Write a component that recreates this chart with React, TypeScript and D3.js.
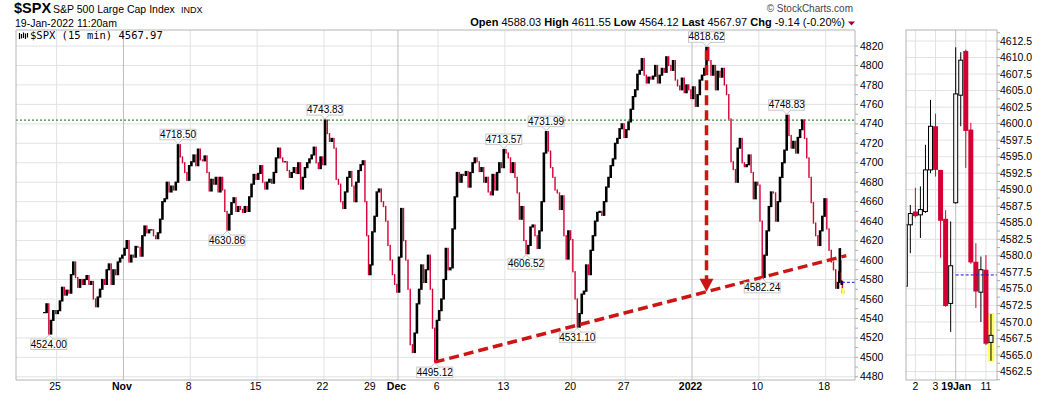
import * as d3 from 'd3';

// trading sessions shown on the 15 min chart
const sessionDates = [
  '2021-10-22', '2021-10-25', '2021-10-26', '2021-10-27', '2021-10-28', '2021-10-29',
  '2021-11-01', '2021-11-02', '2021-11-03', '2021-11-04', '2021-11-05',
  '2021-11-08', '2021-11-09', '2021-11-10', '2021-11-11', '2021-11-12',
  '2021-11-15', '2021-11-16', '2021-11-17', '2021-11-18', '2021-11-19',
  '2021-11-22', '2021-11-23', '2021-11-24', '2021-11-26',
  '2021-11-29', '2021-11-30', '2021-12-01', '2021-12-02', '2021-12-03',
  '2021-12-06', '2021-12-07', '2021-12-08', '2021-12-09', '2021-12-10',
  '2021-12-13', '2021-12-14', '2021-12-15', '2021-12-16', '2021-12-17',
  '2021-12-20', '2021-12-21', '2021-12-22', '2021-12-23',
  '2021-12-27', '2021-12-28', '2021-12-29', '2021-12-30', '2021-12-31',
  '2022-01-03', '2022-01-04', '2022-01-05', '2022-01-06', '2022-01-07',
  '2022-01-10', '2022-01-11', '2022-01-12', '2022-01-13', '2022-01-14',
  '2022-01-18', '2022-01-19',
];

// sessions with fewer than 26 fifteen-minute bars
const shortSessions: Record<string, number> = { '2021-11-26': 14, '2022-01-19': 8 };

// price path within each session
const sessionPrices: number[][] = [
  [4546, 4555, 4524.0, 4538, 4548, 4545],
  [4548, 4558, 4572, 4564, 4569, 4566],
  [4585, 4598, 4582, 4572, 4580, 4575],
  [4580, 4584, 4575, 4578, 4560, 4552],
  [4562, 4570, 4580, 4575, 4590, 4596],
  [4575, 4590, 4585, 4598, 4602, 4605],
  [4612, 4620, 4598, 4605, 4603, 4614],
  [4613, 4604, 4625, 4635, 4628, 4631],
  [4631, 4625, 4622, 4628, 4642, 4660],
  [4663, 4680, 4670, 4676, 4672, 4680],
  [4718.5, 4706, 4700, 4690, 4682, 4697],
  [4701, 4708, 4697, 4714, 4703, 4702],
  [4707, 4690, 4671, 4683, 4678, 4685],
  [4670, 4685, 4672, 4650, 4630.86, 4647],
  [4659, 4664, 4650, 4655, 4652, 4649],
  [4655, 4650, 4665, 4678, 4688, 4683],
  [4689, 4697, 4680, 4673, 4680, 4683],
  [4679, 4690, 4705, 4715, 4705, 4701],
  [4701, 4692, 4685, 4690, 4695, 4689],
  [4700, 4673, 4685, 4695, 4700, 4704],
  [4708, 4716, 4700, 4694, 4706, 4698],
  [4743.83, 4730, 4722, 4725, 4715, 4683],
  [4678, 4660, 4653, 4670, 4685, 4691],
  [4676, 4660, 4680, 4692, 4698, 4702],
  [4660, 4625, 4585, 4595],
  [4629, 4645, 4670, 4673, 4660, 4655],
  [4640, 4615, 4600, 4585, 4575, 4567],
  [4603, 4653, 4620, 4600, 4570, 4513],
  [4505, 4525, 4555, 4570, 4595, 4577],
  [4590, 4605, 4570, 4530, 4495.12, 4538],
  [4548, 4560, 4580, 4612, 4590, 4592],
  [4632, 4665, 4690, 4680, 4688, 4687],
  [4691, 4675, 4690, 4700, 4705, 4701],
  [4691, 4695, 4680, 4685, 4670, 4667],
  [4688, 4672, 4690, 4700, 4695, 4713.57],
  [4710, 4705, 4690, 4700, 4685, 4669],
  [4642, 4655, 4620, 4606.52, 4615, 4634],
  [4636, 4625, 4612, 4630, 4660, 4710],
  [4731.99, 4712, 4695, 4685, 4672, 4669],
  [4652, 4666, 4625, 4601, 4630, 4621],
  [4588, 4560, 4531.1, 4545, 4565, 4568],
  [4595, 4585, 4610, 4625, 4640, 4649],
  [4650, 4646, 4660, 4675, 4685, 4697],
  [4704, 4720, 4725, 4735, 4740, 4726],
  [4734, 4742, 4755, 4768, 4775, 4791],
  [4795, 4807, 4790, 4782, 4788, 4786],
  [4789, 4800, 4782, 4790, 4797, 4793],
  [4808.9, 4800, 4795, 4805, 4785, 4779],
  [4775, 4787, 4772, 4780, 4775, 4766],
  [4778, 4758, 4770, 4785, 4790, 4797],
  [4818.62, 4805, 4790, 4800, 4775, 4794],
  [4788, 4797, 4780, 4770, 4745, 4701],
  [4693, 4680, 4715, 4725, 4700, 4696],
  [4698, 4708, 4690, 4663, 4680, 4677],
  [4640, 4582.24, 4605, 4630, 4655, 4670],
  [4669, 4640, 4660, 4685, 4700, 4713],
  [4748.83, 4728, 4715, 4722, 4710, 4726],
  [4734, 4744, 4725, 4705, 4685, 4659],
  [4638, 4625, 4615, 4630, 4645, 4663],
  [4632, 4610, 4598, 4590, 4571, 4577],
  [4588, 4611.55, 4599, 4579, 4575, 4578, 4566.7, 4567.97],
];

// x axis ticks (main chart)
const xTickDates = [
  '2021-10-25', '2021-11-01', '2021-11-08', '2021-11-15', '2021-11-22', '2021-11-29',
  '2021-12-01', '2021-12-06', '2021-12-13', '2021-12-20', '2021-12-27', '2022-01-03',
  '2022-01-10', '2022-01-18',
];
const xTickLabels = ['25', 'Nov', '8', '15', '22', '29', 'Dec', '6', '13', '20', '27', '2022', '10', '18'];
const xTickMonth = [false, true, false, false, false, false, true, false, false, false, false, true, false, false];

const yTicks = d3.range(4480, 4821, 20);

// annotated highs and lows
const peakDates = [
  '2021-10-22', '2021-11-05', '2021-11-10', '2021-11-22', '2021-12-03', '2021-12-10',
  '2021-12-14', '2021-12-16', '2021-12-20', '2022-01-04', '2022-01-10', '2022-01-12',
];
const peakPrices = [4524.0, 4718.5, 4630.86, 4743.83, 4495.12, 4713.57, 4606.52, 4731.99, 4531.1, 4818.62, 4582.24, 4748.83];
const peakSides = ['below', 'above', 'below', 'above', 'below', 'above', 'below', 'above', 'below', 'above', 'below', 'above'];

const resistance = 4743.83;
const prevClose = 4577.11;
const trendFrom = { date: '2021-12-03', price: 4495.12 };
const trendTo = { date: '2022-01-10', price: 4582.24 };
const arrowFrom = { date: '2022-01-04', price: 4818.62 };

// right panel: 15 min candles, 18 Jan afternoon + 19 Jan morning
const candleTimes = ['13:30', '13:45', '14:00', '14:15', '14:30', '14:45', '15:00', '15:15', '15:30', '15:45',
  '09:30', '09:45', '10:00', '10:15', '10:30', '10:45', '11:00', '11:15'];
const candleOpen = [4575.4, 4584.7, 4586.7, 4586.2, 4586.7, 4593.0, 4599.6, 4593.0, 4585.6, 4572.8,
  4588.03, 4604.3, 4611.0, 4599.1, 4579.1, 4574.5, 4577.9, 4566.9];
const candleHigh = [4585.5, 4587.7, 4590.3, 4590.5, 4596.8, 4603.6, 4601.5, 4593.0, 4586.9, 4585.2,
  4611.55, 4610.8, 4611.2, 4600.1, 4581.9, 4579.9, 4580.1, 4571.2];
const candleLow = [4575.4, 4580.4, 4585.8, 4582.7, 4586.5, 4592.5, 4592.0, 4579.7, 4572.3, 4568.5,
  4587.9, 4599.6, 4593.3, 4578.8, 4572.1, 4570.0, 4566.5, 4564.12];
const candleClose = [4584.7, 4586.4, 4586.0, 4587.0, 4593.0, 4599.6, 4593.0, 4585.3, 4572.4, 4578.5,
  4604.5, 4609.6, 4598.9, 4579.0, 4574.6, 4577.9, 4566.7, 4567.97];
const sideGridTimes = ['14:00', '15:00', '09:30', '10:00', '11:00'];
const sideGridLabels = ['2', '3', '19Jan', '', '11'];
const sideYTicks = d3.range(4562.5, 4612.6, 2.5);

const RED = '#d40034';
const TREND = '#cc1515';
const GRID = '#e2e2e2';
const FONT = '"Liberation Sans", Arial, sans-serif';

export default function App() {
  const main = { left: 16, right: 855, top: 30, bottom: 380 };
  const side = { left: 906, right: 997, top: 30, bottom: 380 };

  const barsPer = sessionDates.map((d) => shortSessions[d] ?? 26);
  const starts: number[] = [];
  let acc = 0;
  barsPer.forEach((b) => {
    starts.push(acc);
    acc += b;
  });

  const x = d3.scaleLinear().domain([-53, 1579]).range([main.left, main.right]);
  const y = d3.scaleLinear().domain([4480, 4820]).range([376.8, 46]);

  type Pt = { bar: number; v: number; prev: number; s: number };
  const pts: Pt[] = [];
  let last = sessionPrices[0][0];
  sessionPrices.forEach((vals, s) => {
    const n = vals.length;
    const nb = barsPer[s];
    vals.forEach((v, k) => {
      pts.push({ bar: starts[s] + ((k + 0.5) * nb) / n, v, prev: last, s });
      last = v;
    });
  });
  const pointOf = (date: string, price: number) => {
    const s = sessionDates.indexOf(date);
    return pts.find((p) => p.s === s && p.v === price)!;
  };

  // each step drawn as a vertical bar, black when rising, red when falling
  const segs = pts.map((p) => {
    const y0 = y(Math.max(p.v, p.prev));
    const y1 = y(Math.min(p.v, p.prev));
    return { x: x(p.bar), y: y0 - 0.6, h: Math.max(1.2, y1 - y0 + 1.2), up: p.v >= p.prev };
  });

  // trend line
  const tA = pointOf(trendFrom.date, trendFrom.price);
  const tB = pointOf(trendTo.date, trendTo.price);
  const trendAt = (bar: number) => tA.v + ((tB.v - tA.v) * (bar - tA.bar)) / (tB.bar - tA.bar);
  const trendEnd = acc + 6;

  const aP = pointOf(arrowFrom.date, arrowFrom.price);
  const ax = x(aP.bar);
  const aTip = y(trendAt(aP.bar));
  const aTop = y(aP.v) + 3;

  const lastPt = pts[pts.length - 1];

  // right panel scales
  const sx = d3.scaleLinear().domain([0, 10]).range([905.3, 955.7]);
  const sy = d3.scaleLinear().domain([4562.5, 4612.5]).range([371.5, 41]);
  const ci = (t: string) => candleTimes.indexOf(t);
  const lastC = candleTimes.length - 1;

  return (
    <svg
      width={1050}
      height={396}
      style={{ position: 'absolute', left: 0, top: 0, background: '#fff' }}
      fontFamily={FONT}
    >
      <defs>
        <clipPath id="mainClip">
          <rect x={main.left} y={main.top} width={main.right - main.left} height={main.bottom - main.top} />
        </clipPath>
        <clipPath id="sideClip">
          <rect x={side.left} y={side.top} width={side.right - side.left} height={side.bottom - side.top} />
        </clipPath>
      </defs>

      {/* header */}
      <text x={14} y={13} fontSize={14.5} fontWeight="bold">$SPX</text>
      <text x={53} y={13} fontSize={10.5}>S&amp;P 500 Large Cap Index</text>
      <text x={181} y={13} fontSize={9}>INDX</text>
      <text x={15} y={27} fontSize={10.5}>19-Jan-2022 11:20am</text>
      <text x={853} y={12} fontSize={10} textAnchor="end" fill="#444">© StockCharts.com</text>
      <text x={845} y={26} fontSize={11} textAnchor="end">
        <tspan fontWeight="bold">Open</tspan> 4588.03{'  '}
        <tspan fontWeight="bold">High</tspan> 4611.55{'  '}
        <tspan fontWeight="bold">Low</tspan> 4564.12{'  '}
        <tspan fontWeight="bold">Last</tspan> 4567.97{'  '}
        <tspan fontWeight="bold">Chg</tspan> -9.14 (-0.20%)
      </text>
      <path d="M848,21.5 L855,21.5 L851.5,25.5 Z" fill="#a3002c" />

      {/* main panel grid */}
      {yTicks.map((v) => (
        <line key={'h' + v} x1={main.left} x2={main.right} y1={y(v)} y2={y(v)} stroke={GRID} />
      ))}
      {xTickDates.map((d, i) => {
        const gx = x(starts[sessionDates.indexOf(d)]);
        return (
          <g key={'v' + d}>
            <line x1={gx} x2={gx} y1={main.top} y2={main.bottom} stroke={xTickMonth[i] ? '#bdbdbd' : GRID} />
            <text
              x={gx - 1.5}
              y={390}
              fontSize={10.5}
              textAnchor="middle"
              fontWeight={xTickMonth[i] ? 'bold' : 'normal'}
            >
              {xTickLabels[i]}
            </text>
          </g>
        );
      })}
      {d3.range(4480, 4821, 10).map((v) => (
        <line key={'t' + v} x1={main.right} x2={main.right + 3} y1={y(v)} y2={y(v)} stroke="#aaa" />
      ))}
      {yTicks.map((v) => (
        <text key={'yl' + v} x={860} y={y(v) + 3.6} fontSize={10.5}>
          {v}
        </text>
      ))}

      {/* legend */}
      <path
        d="M19.5,33 V39 M21.5,34 V38.5 M23.5,32.5 V38 M25.5,33.5 V39 M27.5,33 V37.5"
        stroke="#000"
        strokeWidth={1.2}
      />
      <text x={30} y={38.5} fontSize={10.5} fontFamily='"DejaVu Sans Mono", monospace'>
        $SPX (15 min) 4567.97
      </text>

      <g clipPath="url(#mainClip)">
        <line
          x1={main.left}
          x2={main.right}
          y1={y(resistance)}
          y2={y(resistance)}
          stroke="#0a6e0a"
          strokeDasharray="2,2"
        />

        {segs.filter((s) => !s.up).map((s, i) => (
          <rect key={'r' + i} x={s.x - 0.7} y={s.y} width={1.4} height={s.h} fill={RED} />
        ))}
        {segs.filter((s) => s.up).map((s, i) => (
          <rect key={'b' + i} x={s.x - 1.3} y={s.y} width={2.6} height={s.h} fill="#000" />
        ))}

        <rect x={x(lastPt.bar) - 1.5} y={y(lastPt.v) - 3} width={3} height={6} fill="#ffff55" />

        <line
          x1={x(tA.bar)}
          y1={y(tA.v)}
          x2={x(trendEnd)}
          y2={y(trendAt(trendEnd))}
          stroke={TREND}
          strokeWidth={3.5}
          strokeDasharray="10,5"
        />
        <line x1={ax} x2={ax} y1={aTop} y2={aTip - 11} stroke={TREND} strokeWidth={3.5} strokeDasharray="10,5" />
        <path d={`M${ax - 7},${aTip - 13} L${ax + 7},${aTip - 13} L${ax},${aTip} Z`} fill={TREND} />

        <line
          x1={x(lastPt.bar) - 1}
          x2={main.right}
          y1={y(prevClose)}
          y2={y(prevClose)}
          stroke="#1010ee"
          strokeDasharray="3,2"
        />

        {peakDates.map((d, i) => {
          const p = pointOf(d, peakPrices[i]);
          const px = x(p.bar);
          const py = y(p.v);
          const above = peakSides[i] === 'above';
          const bw = 36;
          const bh = 10.5;
          const edge = above ? py - 5 : py + 5;
          const by = above ? edge - bh : edge;
          const notch = above
            ? `M${px - 4},${edge} L${px},${edge + 4} L${px + 4},${edge}`
            : `M${px - 4},${edge} L${px},${edge - 4} L${px + 4},${edge}`;
          return (
            <g key={'pk' + d}>
              <rect x={px - bw / 2} y={by} width={bw} height={bh} fill="#fff" stroke="#c8c8c8" />
              <path d={notch} fill="#fff" stroke="#c8c8c8" />
              <rect x={px - 3} y={above ? edge - 1.5 : edge + 0.5} width={6} height={1} fill="#fff" />
              <text x={px} y={by + 8.6} fontSize={10} textAnchor="middle">
                {peakPrices[i].toFixed(2)}
              </text>
            </g>
          );
        })}
      </g>

      <path
        d={`M${main.left},${main.top} V${main.bottom} H${main.right} V${main.top} Z`}
        fill="none"
        stroke="#b4b4b4"
      />

      {/* right panel */}
      {sideYTicks.map((v) => (
        <line key={'sh' + v} x1={side.left} x2={side.right} y1={sy(v)} y2={sy(v)} stroke={GRID} />
      ))}
      {d3.range(4561.25, 4614, 1.25).map((v) => (
        <line key={'st' + v} x1={side.right} x2={side.right + 3} y1={sy(v)} y2={sy(v)} stroke="#aaa" />
      ))}
      {sideYTicks.map((v) => (
        <text key={'sl' + v} x={1000} y={sy(v) + 3.6} fontSize={10.5}>
          {v.toFixed(1)}
        </text>
      ))}
      {sideGridTimes.map((t, i) => {
        const gx = sx(ci(t));
        return (
          <g key={'sg' + t}>
            <line x1={gx} x2={gx} y1={side.top} y2={side.bottom} stroke={t === '09:30' ? '#bdbdbd' : GRID} />
            {sideGridLabels[i] && (
              <text
                x={gx + (t === '09:30' ? 0.5 : 0)}
                y={390}
                fontSize={10.5}
                textAnchor="middle"
                fontWeight={t === '09:30' ? 'bold' : 'normal'}
              >
                {sideGridLabels[i]}
              </text>
            )}
          </g>
        );
      })}

      <g clipPath="url(#sideClip)">
        <rect
          x={sx(lastC) - 3.4}
          y={sy(candleHigh[lastC]) - 1}
          width={6.8}
          height={sy(candleLow[lastC]) - sy(candleHigh[lastC]) + 2}
          fill="#ffff66"
        />
        {candleTimes.map((t, i) => {
          const cx = sx(i);
          const up = candleClose[i] >= candleOpen[i];
          const top = sy(Math.max(candleOpen[i], candleClose[i]));
          const bot = sy(Math.min(candleOpen[i], candleClose[i]));
          return (
            <g key={'c' + t}>
              <line
                x1={cx}
                x2={cx}
                y1={sy(candleHigh[i])}
                y2={sy(candleLow[i])}
                stroke={up ? '#000' : RED}
                strokeWidth={1}
              />
              {up ? (
                <rect x={cx - 2} y={top} width={4} height={Math.max(1, bot - top)} fill="#f4f4f4" stroke="#000" />
              ) : (
                <rect x={cx - 2.5} y={top} width={5} height={Math.max(1, bot - top)} fill={RED} />
              )}
            </g>
          );
        })}
        <line
          x1={sx(ci('09:30'))}
          x2={side.right}
          y1={sy(prevClose)}
          y2={sy(prevClose)}
          stroke="#1010ee"
          strokeDasharray="3,2"
        />
      </g>
      <rect
        x={side.left}
        y={side.top}
        width={side.right - side.left}
        height={side.bottom - side.top}
        fill="none"
        stroke="#b4b4b4"
      />
    </svg>
  );
}
